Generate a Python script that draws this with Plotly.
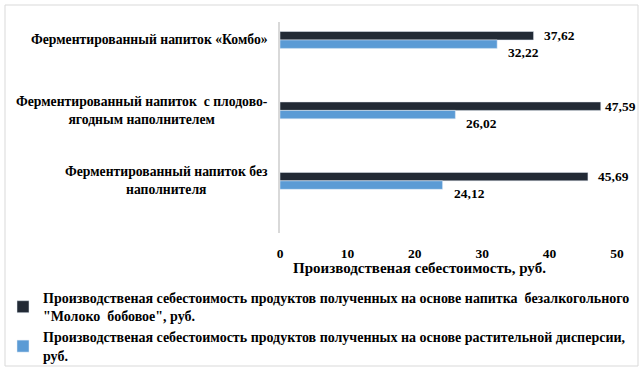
import plotly.graph_objects as go

categories = [
    "Ферментированный напиток «Комбо»",
    "Ферментированный напиток  с плодово-<br>ягодным наполнителем",
    "Ферментированный напиток без<br>наполнителя",
]
series_names = [
    "Производственая себестоимость продуктов полученных на основе напитка  безалкогольного<br>\"Молоко  бобовое\", руб.",
    "Производственая себестоимость продуктов полученных на основе растительной дисперсии,<br>руб.",
]
values_milk = [37.62, 47.59, 45.69]
values_disp = [32.22, 26.02, 24.12]
x_ticks = [0, 10, 20, 30, 40, 50]
x_title = "Производственая себестоимость, руб."

FONT = "Liberation Serif, Times New Roman, DejaVu Serif, serif"
dark = "#222a35"
blue = "#5b9bd5"

fig = go.Figure()
fig.add_trace(go.Bar(y=categories, x=values_milk, orientation="h", name="<b>" + series_names[0] + "</b>",
                     marker=dict(color=dark), hoverinfo="skip"))
fig.add_trace(go.Bar(y=categories, x=values_disp, orientation="h", name="<b>" + series_names[1] + "</b>",
                     marker=dict(color=blue), hoverinfo="skip"))

def fmt(v):
    return f"{v:.2f}".replace(".", ",")

annotations = []
for c, v in zip(categories, values_milk):
    annotations.append(dict(x=v, y=c, xref="x", yref="y", text="<b>" + fmt(v) + "</b>",
                            showarrow=False, xanchor="left", xshift=(2 if v > 47 else 8), yshift=4,
                            font=dict(family=FONT, size=13.5, color="black")))
for c, v in zip(categories, values_disp):
    annotations.append(dict(x=v, y=c, xref="x", yref="y", text="<b>" + fmt(v) + "</b>",
                            showarrow=False, xanchor="left", xshift=9, yshift=-13,
                            font=dict(family=FONT, size=13.5, color="black")))
for c in categories:
    annotations.append(dict(x=0, y=c, xref="paper", yref="y", text="<b>" + c + "</b>",
                            showarrow=False, xanchor="right", xshift=-10, align="center",
                            font=dict(family=FONT, size=13.7, color="black")))
# x-axis title (placed left of centre, as in the original)
annotations.append(dict(x=0.5, y=0, xref="paper", yref="paper", text="<b>" + x_title + "</b>",
                        showarrow=False, xanchor="center", yanchor="middle", xshift=-29, yshift=-35,
                        font=dict(family=FONT, size=15, color="black")))

# outer frame
pw, ph = 337.0, 211.0
shapes = [dict(type="rect", xref="paper", yref="paper",
               x0=(5 - 280) / pw, x1=(638 - 280) / pw,
               y0=(233 - 366) / ph, y1=(233 - 5) / ph,
               line=dict(color="#d9d9d9", width=1), fillcolor="rgba(0,0,0,0)", layer="below")]

fig.update_layout(
    width=643, height=369,
    margin=dict(l=280, r=26, t=22, b=136, autoexpand=False),
    barmode="group", bargap=0.76, bargroupgap=0,
    paper_bgcolor="white", plot_bgcolor="white",
    separators=", ",
    font=dict(family=FONT, size=13, color="black"),
    xaxis=dict(range=[0, 50], tickvals=x_ticks, ticktext=["<b>%d</b>" % t for t in x_ticks],
               showgrid=False, zeroline=False, showline=False, ticks="", ticklabelstandoff=10,
               tickfont=dict(family=FONT, size=13.5, color="black")),
    yaxis=dict(categoryorder="array", categoryarray=categories, autorange=False,
               range=[2.74, -0.255], showticklabels=False, showgrid=False, zeroline=False,
               showline=True, linecolor="#d9d9d9", linewidth=2, ticks=""),
    showlegend=True,
    legend=dict(xref="container", yref="container", x=3 / 643, y=(369 - 282) / 369,
                xanchor="left", yanchor="top",
                font=dict(family=FONT, size=14, color="black"), tracegroupgap=0,
                bgcolor="rgba(0,0,0,0)", itemwidth=30),
    annotations=annotations,
    shapes=shapes,
)

fig.write_html("out.html", config={"displayModeBar": False},
               post_script="document.body.style.margin='0';document.body.style.padding='0';")
